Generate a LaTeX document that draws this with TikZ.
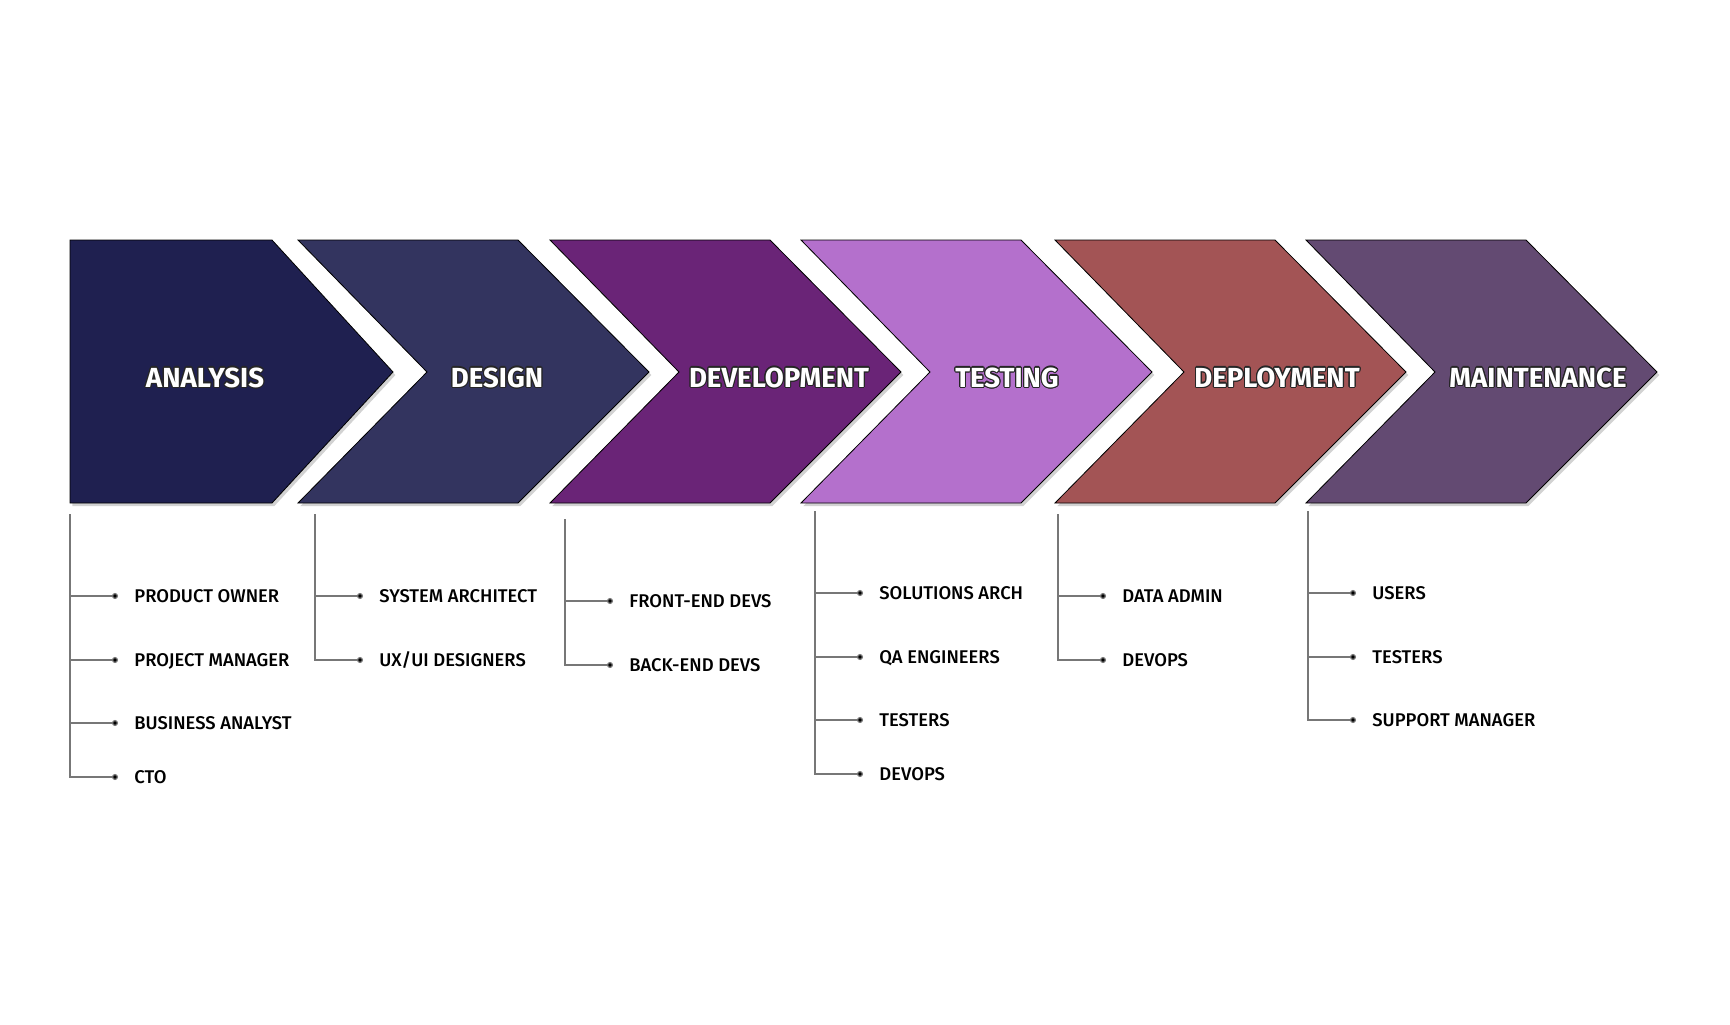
\documentclass[tikz,border=0pt]{standalone}
\usepackage{fontspec}
\setmainfont{Fira Sans}[UprightFont=* Medium, BoldFont=* Bold]
\usepackage{contour}
\contourlength{0.55pt}
\usetikzlibrary{arrows.meta,shadows}
\definecolor{analysisc}{HTML}{1F2050}
\definecolor{designc}{HTML}{33345F}
\definecolor{devc}{HTML}{6A2477}
\definecolor{testc}{HTML}{B470CC}
\definecolor{deployc}{HTML}{A35455}
\definecolor{maintc}{HTML}{634A72}
\definecolor{linec}{HTML}{777777}
\tikzset{
  phase/.style={draw=black, line width=0.4pt, line join=miter,
    drop shadow={opacity=0.35, shadow xshift=1.2pt, shadow yshift=-1.5pt}},
  phasetext/.style={font=\bfseries\fontsize{13.8}{15}\selectfont, text=white},
  role/.style={anchor=west, inner xsep=8pt, inner ysep=0pt, text height=6.3pt, text depth=0pt,
    font=\fontsize{9.2}{11}\selectfont},
  branch/.style={draw=linec, line width=0.6pt, -{Circle[length=3pt, fill=black]}},
}
\begin{document}
\begin{tikzpicture}[x=0.5pt, y=-0.5pt]
		\useasboundingbox[fill=white] (0,0) rectangle (1730,1024);
		% phases
		\draw[phase, fill=analysisc] (70,240) -- (272,240) -- (393,372) -- (272,503) -- (70,503) -- cycle;
		\node[phasetext] (analysis) at (205,378) {\contour{black!85}{ANALYSIS}};
		\foreach \l/\c/\tx/\n/\t in {298/designc/497/design/DESIGN, 550/devc/779/development/DEVELOPMENT,
		  801/testc/1007/testing/TESTING, 1055/deployc/1277/deployment/DEPLOYMENT,
		  1306/maintc/1538/maintenance/MAINTENANCE}{
		  \draw[phase, fill=\c] (\l,240) -- ++(220,0) -- ++(131,132) -- ++(-131,131) -- ++(-220,0) -- ++(129,-131) -- cycle;
		  \node[phasetext] (\n) at (\tx,378) {\contour{black!85}{\t}};
		}
		% roles
		\coordinate (an) at (70,514);
		\foreach \y/\n/\t in {596/po/PRODUCT OWNER, 660/pm/PROJECT MANAGER, 723/ba/BUSINESS ANALYST, 777/cto/CTO}{
		  \node[role] (\n) at (118,\y) {\t};
		  \draw[branch] (an) |- (\n.west);
		}
		\coordinate (de) at (315,514);
		\foreach \y/\n/\t in {596/sa/SYSTEM ARCHITECT, 660/ux/{UX/UI DESIGNERS}}{
		  \node[role] (\n) at (363,\y) {\t};
		  \draw[branch] (de) |- (\n.west);
		}
		\coordinate (dv) at (565,519);
		\foreach \y/\n/\t in {601/fe/FRONT-END DEVS, 665/be/BACK-END DEVS}{
		  \node[role] (\n) at (613,\y) {\t};
		  \draw[branch] (dv) |- (\n.west);
		}
		\coordinate (te) at (815,511);
		\foreach \y/\n/\t in {593/so/SOLUTIONS ARCH, 657/qa/QA ENGINEERS, 720/tt/TESTERS, 774/td/DEVOPS}{
		  \node[role] (\n) at (863,\y) {\t};
		  \draw[branch] (te) |- (\n.west);
		}
		\coordinate (dp) at (1058,514);
		\foreach \y/\n/\t in {596/da/DATA ADMIN, 660/dd/DEVOPS}{
		  \node[role] (\n) at (1106,\y) {\t};
		  \draw[branch] (dp) |- (\n.west);
		}
		\coordinate (ma) at (1308,511);
		\foreach \y/\n/\t in {593/us/USERS, 657/mt/TESTERS, 720/sm/SUPPORT MANAGER}{
		  \node[role] (\n) at (1356,\y) {\t};
		  \draw[branch] (ma) |- (\n.west);
		}
		\end{tikzpicture}
\end{document}
